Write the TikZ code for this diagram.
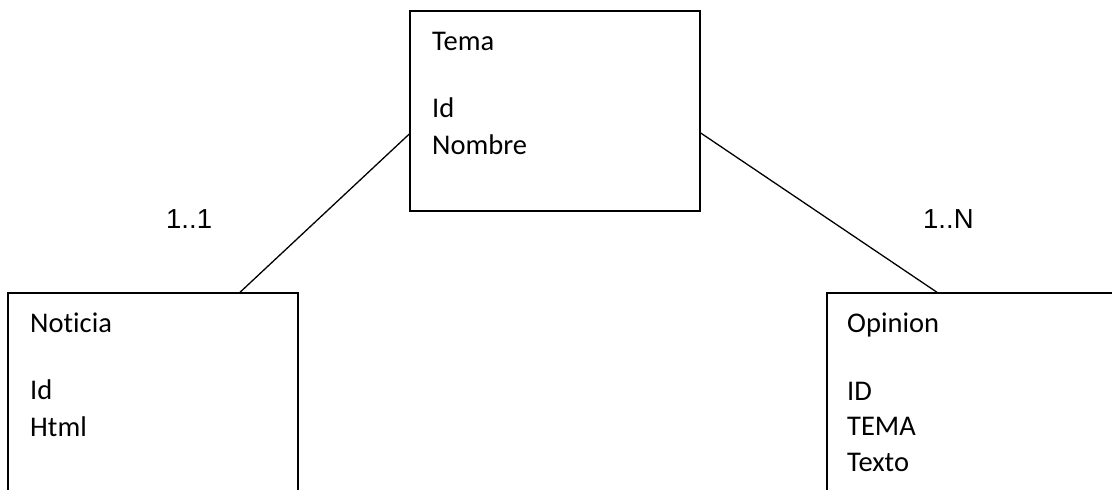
\documentclass[tikz,border=0pt]{standalone}
\usepackage{fontspec}
\setmainfont{Carlito}[Ligatures=NoCommon]
\newfontfamily\labelfont{Liberation Sans}
\begin{document}
\begin{tikzpicture}[x=1pt,y=-1pt,
  entity/.style={draw=black, line width=1.4pt, rectangle, inner sep=0pt,
    minimum width=290pt},
  attr/.style={anchor=base west, inner sep=0pt, font=\fontsize{28.5}{32}\selectfont},
  mult/.style={anchor=base west, inner sep=0pt, font=\labelfont\fontsize{27.5}{30}\selectfont},
  link/.style={line width=1.3pt}]
\useasboundingbox (0,0) rectangle (1112,490);
\clip (0,0) rectangle (1112,490);

% entity boxes
\node[entity, minimum height=200pt] (tema) at (555,111) {};
\node[entity, minimum height=240pt] (noticia) at (153,413) {};
\node[entity, minimum height=240pt] (opinion) at (972,413) {};

% Tema
\node[attr] (temaT) at (432,50) {Tema};
\node[attr] (temaA) at (432,117) {Id};
\node[attr] (temaB) at (432,154) {Nombre};

% Noticia
\node[attr] (notT) at (30,332) {Noticia};
\node[attr] (notA) at (30,399) {Id};
\node[attr] (notB) at (30,436) {Html};

% Opinion
\node[attr] (opT) at (847,332) {Opinion};
\node[attr] (opA) at (847,400) {ID};
\node[attr] (opB) at (847,435) {TEMA};
\node[attr] (opC) at (847,471) {Texto};

% relationships
\draw[link] ([yshift=-23pt]tema.west) -- ([xshift=87pt]noticia.north);
\draw[link] ([yshift=-22pt]tema.east) -- ([xshift=-35pt]opinion.north);

% multiplicities
\node[mult] (m1) at (166,228) {1..1};
\node[mult] (m2) at (923,228) {1..N};
\end{tikzpicture}
\end{document}
